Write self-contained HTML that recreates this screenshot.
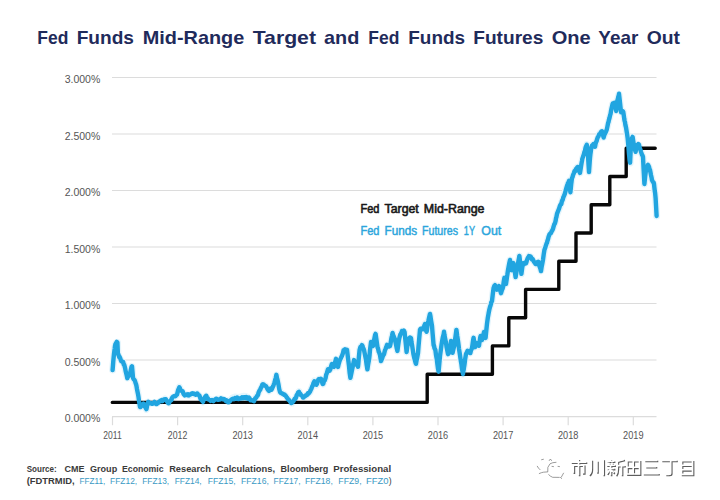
<!DOCTYPE html>
<html><head><meta charset="utf-8"><title>Fed Funds</title>
<style>
html,body{margin:0;padding:0;background:#fff;}
body{width:720px;height:500px;overflow:hidden;font-family:"Liberation Sans",sans-serif;}
svg{display:block;}
svg text{font-family:"Liberation Sans",sans-serif;}
</style></head><body>
<svg width="720" height="500" viewBox="0 0 720 500">
<rect width="720" height="500" fill="#ffffff"/>
<text x="37.3" y="44.3" font-size="19" font-weight="bold" fill="#1f2b5b" textLength="31.0" lengthAdjust="spacingAndGlyphs">Fed</text>
<text x="76.7" y="44.3" font-size="19" font-weight="bold" fill="#1f2b5b" textLength="57.3" lengthAdjust="spacingAndGlyphs">Funds</text>
<text x="142.7" y="44.3" font-size="19" font-weight="bold" fill="#1f2b5b" textLength="101.6" lengthAdjust="spacingAndGlyphs">Mid-Range</text>
<text x="252.7" y="44.3" font-size="19" font-weight="bold" fill="#1f2b5b" textLength="63.3" lengthAdjust="spacingAndGlyphs">Target</text>
<text x="324.0" y="44.3" font-size="19" font-weight="bold" fill="#1f2b5b" textLength="35.3" lengthAdjust="spacingAndGlyphs">and</text>
<text x="368.3" y="44.3" font-size="19" font-weight="bold" fill="#1f2b5b" textLength="31.0" lengthAdjust="spacingAndGlyphs">Fed</text>
<text x="408.3" y="44.3" font-size="19" font-weight="bold" fill="#1f2b5b" textLength="56.7" lengthAdjust="spacingAndGlyphs">Funds</text>
<text x="473.3" y="44.3" font-size="19" font-weight="bold" fill="#1f2b5b" textLength="70.0" lengthAdjust="spacingAndGlyphs">Futures</text>
<text x="551.7" y="44.3" font-size="19" font-weight="bold" fill="#1f2b5b" textLength="39.0" lengthAdjust="spacingAndGlyphs">One</text>
<text x="598.3" y="44.3" font-size="19" font-weight="bold" fill="#1f2b5b" textLength="40.0" lengthAdjust="spacingAndGlyphs">Year</text>
<text x="646.7" y="44.3" font-size="19" font-weight="bold" fill="#1f2b5b" textLength="33.3" lengthAdjust="spacingAndGlyphs">Out</text>
<line x1="112" y1="77.5" x2="656.5" y2="77.5" stroke="#dcdcdc" stroke-width="1.2"/>
<line x1="112" y1="134.0" x2="656.5" y2="134.0" stroke="#dcdcdc" stroke-width="1.2"/>
<line x1="112" y1="190.5" x2="656.5" y2="190.5" stroke="#dcdcdc" stroke-width="1.2"/>
<line x1="112" y1="247.0" x2="656.5" y2="247.0" stroke="#dcdcdc" stroke-width="1.2"/>
<line x1="112" y1="303.5" x2="656.5" y2="303.5" stroke="#dcdcdc" stroke-width="1.2"/>
<line x1="112" y1="360.0" x2="656.5" y2="360.0" stroke="#dcdcdc" stroke-width="1.2"/>
<line x1="112" y1="416.7" x2="656.5" y2="416.7" stroke="#dcdcdc" stroke-width="1.2"/>
<line x1="112.5" y1="416.7" x2="112.5" y2="425.2" stroke="#dcdcdc" stroke-width="1.2"/>
<line x1="177.6" y1="416.7" x2="177.6" y2="425.2" stroke="#dcdcdc" stroke-width="1.2"/>
<line x1="242.7" y1="416.7" x2="242.7" y2="425.2" stroke="#dcdcdc" stroke-width="1.2"/>
<line x1="307.8" y1="416.7" x2="307.8" y2="425.2" stroke="#dcdcdc" stroke-width="1.2"/>
<line x1="372.9" y1="416.7" x2="372.9" y2="425.2" stroke="#dcdcdc" stroke-width="1.2"/>
<line x1="438.0" y1="416.7" x2="438.0" y2="425.2" stroke="#dcdcdc" stroke-width="1.2"/>
<line x1="503.1" y1="416.7" x2="503.1" y2="425.2" stroke="#dcdcdc" stroke-width="1.2"/>
<line x1="568.2" y1="416.7" x2="568.2" y2="425.2" stroke="#dcdcdc" stroke-width="1.2"/>
<line x1="633.3" y1="416.7" x2="633.3" y2="425.2" stroke="#dcdcdc" stroke-width="1.2"/>
<text x="100.3" y="83.0" font-size="10" fill="#555555" text-anchor="end" textLength="35.6" lengthAdjust="spacingAndGlyphs">3.000%</text>
<text x="100.3" y="139.5" font-size="10" fill="#555555" text-anchor="end" textLength="35.6" lengthAdjust="spacingAndGlyphs">2.500%</text>
<text x="100.3" y="196.0" font-size="10" fill="#555555" text-anchor="end" textLength="35.6" lengthAdjust="spacingAndGlyphs">2.000%</text>
<text x="100.3" y="252.5" font-size="10" fill="#555555" text-anchor="end" textLength="35.6" lengthAdjust="spacingAndGlyphs">1.500%</text>
<text x="100.3" y="309.0" font-size="10" fill="#555555" text-anchor="end" textLength="35.6" lengthAdjust="spacingAndGlyphs">1.000%</text>
<text x="100.3" y="365.5" font-size="10" fill="#555555" text-anchor="end" textLength="35.6" lengthAdjust="spacingAndGlyphs">0.500%</text>
<text x="100.3" y="422.2" font-size="10" fill="#555555" text-anchor="end" textLength="35.6" lengthAdjust="spacingAndGlyphs">0.000%</text>
<text x="112.5" y="439" font-size="10" fill="#555555" text-anchor="middle" textLength="18.4" lengthAdjust="spacingAndGlyphs">2011</text>
<text x="177.6" y="439" font-size="10" fill="#555555" text-anchor="middle" textLength="19.5" lengthAdjust="spacingAndGlyphs">2012</text>
<text x="242.7" y="439" font-size="10" fill="#555555" text-anchor="middle" textLength="20.4" lengthAdjust="spacingAndGlyphs">2013</text>
<text x="307.8" y="439" font-size="10" fill="#555555" text-anchor="middle" textLength="20.4" lengthAdjust="spacingAndGlyphs">2014</text>
<text x="372.9" y="439" font-size="10" fill="#555555" text-anchor="middle" textLength="20.4" lengthAdjust="spacingAndGlyphs">2015</text>
<text x="438.0" y="439" font-size="10" fill="#555555" text-anchor="middle" textLength="20.4" lengthAdjust="spacingAndGlyphs">2016</text>
<text x="503.1" y="439" font-size="10" fill="#555555" text-anchor="middle" textLength="20.4" lengthAdjust="spacingAndGlyphs">2017</text>
<text x="568.2" y="439" font-size="10" fill="#555555" text-anchor="middle" textLength="20.4" lengthAdjust="spacingAndGlyphs">2018</text>
<text x="633.3" y="439" font-size="10" fill="#555555" text-anchor="middle" textLength="20.4" lengthAdjust="spacingAndGlyphs">2019</text>
<polyline points="112.6,370.0 113.6,358.0 115.0,346.0 116.2,343.0 117.4,342.4 117.9,354.0 119.3,357.0 121.3,361.0 122.8,362.0 124.3,365.0 125.8,372.0 127.3,378.0 130.0,374.0 131.0,369.0 132.0,366.4 133.0,378.0 134.5,380.0 136.0,384.0 137.0,389.0 138.0,394.0 139.0,401.0 140.0,407.0 142.0,405.0 144.0,404.0 145.2,407.0 146.4,409.4 147.2,405.0 148.0,402.0 150.5,403.4 153.0,403.0 155.0,402.6 157.0,403.6 159.0,402.0 161.0,401.0 163.0,400.6 165.0,399.0 167.0,401.5 169.0,403.0 171.0,400.0 173.0,397.0 175.0,396.4 177.0,395.0 178.2,390.0 179.4,387.0 180.6,390.0 182.0,391.0 183.5,393.6 185.0,395.0 187.0,394.6 189.0,395.6 191.0,394.4 193.0,394.0 195.0,394.6 197.0,393.6 198.5,395.0 200.0,397.0 201.5,400.0 203.0,402.0 204.5,398.0 206.0,396.0 207.5,398.6 209.0,400.0 211.0,400.0 213.0,401.0 215.0,399.6 217.0,399.0 219.0,399.2 221.0,398.4 223.0,399.6 225.0,400.0 227.5,400.6 230.0,400.4 232.5,398.0 235.0,397.0 238.0,397.4 241.0,397.0 244.0,396.2 246.0,396.4 248.0,397.6 250.0,399.0 252.0,400.4 253.6,401.0 255.4,398.0 257.0,396.0 258.5,393.0 260.0,390.0 261.5,387.0 263.0,384.0 264.5,385.4 266.0,386.0 267.5,389.0 269.0,391.0 270.5,389.4 272.0,389.0 273.2,386.0 274.4,383.0 275.4,379.0 276.4,375.0 277.4,380.0 278.4,384.0 279.2,389.0 280.0,392.0 281.5,393.0 283.0,394.0 284.5,394.6 286.0,396.0 287.5,398.0 289.0,400.0 290.5,402.0 292.0,403.0 293.5,401.4 295.0,399.0 297.0,395.0 299.0,391.6 300.0,393.6 301.0,395.0 302.5,396.4 304.0,397.0 305.5,396.0 307.0,395.0 308.5,393.6 310.0,392.0 311.2,389.0 312.4,386.0 313.4,383.0 314.4,381.0 315.4,383.4 316.4,385.0 317.7,381.6 319.0,379.0 321.0,379.0 322.0,382.0 323.0,384.0 324.3,381.0 325.6,378.0 326.8,373.0 328.0,369.0 329.0,370.4 330.0,370.0 331.0,366.6 332.0,364.0 333.0,366.0 334.0,367.0 335.0,362.6 336.0,359.0 337.0,363.6 338.0,367.0 339.0,363.0 340.0,360.0 341.0,358.0 342.0,356.0 343.0,353.0 344.0,350.0 345.5,349.6 347.0,350.0 348.0,358.0 349.0,366.0 349.7,373.0 350.4,378.0 351.2,374.0 352.0,370.0 353.0,364.6 354.0,360.0 355.0,361.8 356.0,363.0 357.0,365.4 358.0,367.0 358.8,358.0 359.6,350.0 360.8,346.6 362.0,345.0 363.0,347.6 364.0,350.0 365.0,355.0 366.0,360.0 366.7,365.0 367.4,369.0 368.2,364.0 369.0,360.0 370.0,350.0 371.0,342.0 372.0,344.6 373.0,346.0 374.3,339.0 375.6,334.0 376.6,341.0 377.6,348.0 378.8,352.0 380.0,355.0 381.0,361.0 382.5,357.0 384.0,354.0 385.5,349.0 387.0,345.0 388.5,346.4 390.0,346.0 391.3,339.0 392.6,333.0 393.8,336.4 395.0,339.0 396.2,345.4 397.4,351.0 398.4,344.0 399.4,338.0 400.7,334.0 402.0,331.0 403.3,331.0 404.6,332.0 405.6,342.0 406.6,352.0 407.6,345.0 408.6,339.0 409.8,338.0 411.0,338.0 412.2,346.0 413.4,354.0 414.7,359.4 416.0,364.0 417.0,358.6 418.0,353.0 419.0,341.0 420.0,330.0 421.5,329.0 423.0,329.0 424.0,326.4 425.0,324.0 425.8,328.6 426.6,332.0 427.3,326.6 428.0,322.0 429.0,317.6 430.0,314.0 431.0,320.0 432.0,326.0 432.8,336.0 433.6,345.0 434.5,348.0 435.4,350.0 436.4,357.0 437.4,364.0 438.0,368.6 438.6,372.0 439.3,364.0 440.0,356.0 441.0,348.6 442.0,342.0 443.0,336.6 444.0,332.0 445.0,337.6 446.0,343.0 447.0,349.0 448.0,354.0 448.7,353.4 449.4,352.0 450.2,346.0 451.0,341.0 451.8,347.6 452.6,353.0 453.5,349.0 454.4,345.0 455.4,337.0 456.4,330.0 457.2,336.0 458.0,341.0 459.0,348.6 460.0,355.0 460.7,360.0 461.4,364.0 462.2,369.6 463.0,374.0 463.7,369.6 464.4,365.0 465.2,359.0 466.0,354.0 467.0,352.0 468.0,351.0 469.0,352.4 470.0,353.0 471.0,350.4 472.0,348.0 472.8,342.6 473.6,338.0 474.3,343.0 475.0,347.0 476.0,344.6 477.0,343.0 478.0,345.0 479.0,346.0 479.8,340.6 480.6,336.0 481.3,338.4 482.0,340.0 483.0,335.6 484.0,332.0 484.8,335.4 485.6,338.0 486.3,330.6 487.0,324.0 487.8,318.0 488.6,313.0 489.3,310.0 490.0,307.0 491.0,303.6 492.0,301.0 492.8,294.0 493.6,288.0 494.3,286.0 495.0,285.0 496.0,288.0 497.0,290.0 498.0,287.6 499.0,286.0 500.0,290.0 501.0,293.0 502.0,289.6 503.0,287.0 503.7,282.0 504.4,278.0 505.2,281.6 506.0,284.0 507.0,276.6 508.0,270.0 509.0,264.6 510.0,260.0 510.8,265.4 511.6,270.0 512.5,266.0 513.4,263.0 514.5,270.6 515.6,277.0 516.6,271.0 517.6,266.0 518.5,260.6 519.4,256.0 520.4,265.4 521.4,274.0 522.2,268.0 523.0,263.0 524.5,263.4 526.0,263.0 527.5,259.0 529.0,256.0 530.0,256.8 531.0,257.0 532.3,259.4 533.6,261.0 534.8,262.8 536.0,264.0 537.2,262.6 538.4,262.0 539.7,267.0 541.0,271.0 542.0,265.0 543.0,260.0 543.7,254.6 544.4,250.0 545.7,246.0 547.0,243.0 548.0,239.0 549.0,236.0 550.5,233.0 552.0,230.5 553.5,227.0 555.0,223.0 556.0,218.6 557.0,214.0 559.0,209.0 561.0,204.0 562.5,200.0 564.0,196.0 565.5,191.0 567.0,186.0 568.0,183.0 569.0,181.0 569.7,187.0 570.4,192.0 571.2,184.6 572.0,178.0 573.0,175.0 574.0,173.0 575.0,171.0 576.0,169.0 577.0,167.6 578.0,167.0 579.0,170.6 580.0,173.0 581.0,166.6 582.0,161.0 583.2,156.0 584.4,152.0 585.4,148.6 586.8,144.6 587.8,152.0 588.6,166.0 589.0,172.0 589.7,162.0 590.4,154.0 591.2,148.0 592.0,145.5 593.8,144.0 595.0,146.6 596.6,141.0 598.0,137.4 599.4,134.0 600.7,132.4 601.9,131.4 602.8,134.6 603.6,137.4 605.0,133.6 606.4,130.4 607.5,126.0 608.5,122.0 609.5,118.0 610.6,113.6 611.6,108.4 612.7,103.8 613.8,103.0 614.8,103.0 615.5,107.4 616.2,110.8 616.9,104.6 617.6,99.6 618.3,96.4 619.0,94.0 619.6,99.0 620.1,103.8 620.6,108.4 621.1,112.0 622.2,111.5 623.2,111.5 623.9,116.4 624.6,120.6 625.3,124.4 626.0,127.6 626.8,132.6 627.6,138.0 628.3,145.0 629.0,154.0 629.6,160.0 630.1,163.0 630.6,152.0 631.2,142.0 631.9,138.6 632.6,137.0 633.3,141.6 634.0,146.0 634.8,149.4 635.6,152.0 636.3,148.0 637.0,145.0 638.0,144.6 639.0,145.0 640.0,148.6 641.0,152.0 642.0,154.6 643.0,157.0 643.7,171.0 644.4,184.0 645.2,176.0 646.0,170.0 647.0,167.0 648.0,165.0 649.0,167.0 650.0,170.0 651.0,175.0 652.0,180.0 653.0,182.4 654.0,184.0 654.8,191.0 655.6,198.0 656.1,207.0 656.6,216.0" fill="none" stroke="#e4f5fc" stroke-width="7" stroke-linejoin="round" stroke-linecap="round"/>
<polyline points="112.3,402.4 427.2,402.4 427.2,374.2 492.4,374.2 492.4,345.9 508.8,345.9 508.8,317.7 525.6,317.7 525.6,289.4 558.8,289.4 558.8,261.2 576.0,261.2 576.0,233.0 591.2,233.0 591.2,204.7 609.8,204.7 609.8,176.5 626.2,176.5 626.2,148.2 655.2,148.2" fill="none" stroke="#080808" stroke-width="3.4" stroke-linejoin="round" stroke-linecap="round"/>
<polyline points="112.6,370.0 113.3,361.0 113.6,358.1 114.0,353.8 114.7,348.6 115.0,345.9 115.4,344.2 116.2,343.0 116.8,341.9 117.4,342.4 117.9,353.8 118.2,353.9 118.9,356.0 119.3,357.2 119.6,356.9 120.3,358.5 121.0,360.6 121.3,361.2 121.7,361.4 122.4,361.5 122.8,362.3 123.1,361.8 123.8,364.6 124.3,364.9 125.2,368.6 125.8,371.8 126.6,374.9 127.3,378.2 128.0,376.4 128.7,376.1 129.4,375.1 130.0,373.9 131.0,369.0 131.5,366.9 132.0,366.2 133.0,377.8 133.6,379.1 134.5,380.0 135.0,381.0 135.7,383.4 136.0,384.0 136.4,385.6 137.0,389.2 138.0,394.1 138.5,397.0 139.0,401.0 140.0,407.0 140.6,407.1 141.3,406.1 142.0,404.9 142.7,405.5 143.4,403.6 144.0,404.0 144.8,406.5 145.2,406.8 145.5,407.6 146.4,409.2 146.9,407.0 147.2,405.1 147.6,403.6 148.0,402.2 148.3,401.8 149.0,402.9 149.7,403.1 150.5,403.4 151.1,403.2 151.8,403.8 152.5,403.9 153.0,403.0 153.9,403.1 154.6,401.9 155.0,402.7 155.3,403.0 156.0,404.0 156.7,404.0 157.0,403.5 157.4,403.1 158.1,403.0 159.0,401.7 159.5,401.7 160.2,400.8 161.0,400.8 161.6,400.1 162.3,401.2 163.0,400.4 163.7,399.6 164.4,399.3 165.0,399.2 165.8,399.2 166.5,400.8 167.0,401.5 167.9,402.9 168.6,403.3 169.0,403.2 169.3,402.2 170.0,401.3 170.7,400.2 171.0,400.2 171.4,400.2 172.1,397.7 173.0,396.8 173.5,396.4 174.2,396.2 175.0,396.4 175.6,396.1 176.3,395.1 177.0,394.7 177.7,391.9 178.2,389.9 179.1,387.9 179.4,387.2 179.8,388.3 180.6,390.0 181.2,390.6 182.0,391.1 182.6,391.2 183.5,393.8 184.0,394.6 184.7,395.4 185.0,395.2 185.4,394.7 186.1,394.6 187.0,394.4 187.5,395.1 188.2,394.4 189.0,395.4 189.6,394.7 190.3,394.2 191.0,394.3 191.7,393.5 192.4,393.2 193.0,393.8 193.8,393.5 194.5,394.2 195.0,394.3 195.9,394.8 196.6,394.0 197.0,393.4 197.3,393.4 198.0,394.3 198.5,394.9 199.4,395.5 200.0,397.2 200.8,399.5 201.5,400.0 202.2,400.9 203.0,401.8 203.6,399.7 204.5,397.9 205.0,396.9 205.7,397.0 206.0,395.8 206.4,395.8 207.1,398.7 207.5,398.6 207.8,398.2 208.5,399.6 209.0,399.7 209.9,400.1 210.6,400.9 211.0,400.2 211.3,400.5 212.0,400.1 212.7,400.6 213.0,400.8 213.4,401.2 214.1,400.3 215.0,399.8 215.5,399.1 216.2,398.7 217.0,399.2 217.6,399.9 218.3,399.8 219.0,399.4 219.7,399.5 220.4,399.1 221.0,398.3 221.8,398.9 222.5,399.0 223.0,399.3 223.9,398.9 224.6,399.5 225.0,399.9 225.3,400.4 226.0,401.1 226.7,400.3 227.5,400.8 228.1,402.4 228.8,402.3 229.5,401.2 230.0,401.2 230.9,400.0 231.6,399.3 232.5,398.8 233.0,399.0 233.7,399.2 234.4,398.9 235.0,398.0 235.8,398.4 236.5,398.7 237.2,397.5 238.0,398.5 238.6,399.1 239.3,398.7 240.0,398.6 240.7,398.0 241.0,397.8 241.4,398.4 242.1,397.4 242.8,398.1 243.5,398.2 244.0,397.1 244.9,397.1 245.6,398.2 246.0,397.5 246.3,397.0 247.0,397.3 247.7,397.8 248.0,398.8 248.4,398.4 249.1,397.7 250.0,399.2 250.5,400.2 251.2,400.1 252.0,400.3 252.6,400.7 253.3,400.2 253.6,400.7 254.0,401.2 254.7,399.4 255.4,398.0 256.1,397.9 257.0,396.0 257.5,395.7 258.2,394.2 258.5,392.8 258.9,391.8 259.6,390.4 260.0,389.9 260.3,389.6 261.0,387.6 261.5,387.0 262.4,384.5 263.0,384.2 263.8,384.5 264.5,385.4 265.2,385.8 266.0,386.2 266.6,387.1 267.5,389.2 268.0,389.7 268.7,390.7 269.0,391.0 269.4,389.7 270.1,389.7 270.5,389.2 270.8,388.4 271.5,389.7 272.0,388.8 272.9,386.7 273.2,386.1 273.6,385.1 274.4,382.9 275.0,380.6 275.4,379.0 275.7,378.3 276.4,374.8 277.1,378.6 277.4,379.9 277.8,381.2 278.4,384.1 279.2,389.0 280.0,392.0 280.6,392.9 281.5,393.2 282.0,393.2 282.7,394.0 283.0,394.0 283.4,394.2 284.1,394.8 284.5,394.6 284.8,394.9 285.5,395.5 286.0,396.2 286.9,397.6 287.5,398.2 288.3,399.9 289.0,399.9 289.7,401.0 290.5,402.2 291.1,403.0 292.0,402.8 292.5,401.8 293.2,401.6 293.5,401.2 293.9,400.3 294.6,398.9 295.0,399.1 295.3,398.9 296.0,397.7 296.7,395.0 297.0,395.1 297.4,394.6 298.1,392.5 299.0,391.8 299.5,393.4 300.0,393.4 301.0,395.2 301.6,395.4 302.5,396.4 303.0,397.5 303.7,397.5 304.0,396.8 304.4,396.6 305.1,396.3 305.5,395.9 305.8,395.3 306.5,395.0 307.0,395.1 307.9,393.3 308.5,393.6 309.3,392.6 310.0,391.7 310.7,389.9 311.2,389.1 312.1,386.8 312.4,385.8 312.8,385.7 313.4,383.2 314.4,381.3 314.9,381.5 315.4,383.3 316.4,384.8 317.0,383.9 317.7,381.5 318.4,379.5 319.0,379.0 319.8,379.7 320.5,379.6 321.0,378.9 322.0,381.8 322.6,384.0 323.0,384.0 323.3,383.7 324.0,381.0 324.3,380.8 324.7,380.4 325.6,378.0 326.1,375.1 326.8,373.2 327.5,370.9 328.0,369.2 329.0,370.2 329.6,370.8 330.0,369.8 330.3,369.6 331.0,366.6 331.7,364.5 332.0,364.0 332.4,365.6 333.0,365.9 334.0,366.8 334.5,364.8 335.0,362.5 336.0,358.8 336.6,361.2 337.0,363.4 337.3,364.1 338.0,366.9 338.7,363.8 339.0,363.1 339.4,361.4 340.0,360.0 341.0,357.8 341.5,356.7 342.0,355.7 343.0,352.9 343.6,350.3 344.0,350.1 344.3,350.0 345.0,349.2 345.5,349.6 346.4,350.6 347.0,349.8 348.0,358.2 348.5,361.9 349.0,366.0 349.7,373.2 350.4,377.9 351.2,374.0 352.0,370.1 352.7,367.1 353.0,364.5 353.4,363.4 354.0,360.1 355.0,361.9 355.5,362.2 356.0,362.9 357.0,365.2 357.6,365.7 358.0,366.8 358.3,364.1 358.8,357.9 359.6,349.8 360.4,347.0 360.8,346.8 361.1,346.9 362.0,345.1 362.5,345.9 363.0,347.5 364.0,349.9 364.6,352.9 365.0,354.8 365.3,356.4 366.0,359.9 366.7,365.2 367.4,369.3 368.2,364.0 369.0,359.9 369.5,355.8 370.0,349.9 371.0,341.9 371.6,342.7 372.0,344.5 372.3,345.0 373.0,346.0 373.7,341.7 374.3,339.0 375.1,335.0 375.6,333.9 376.6,340.8 377.2,345.0 377.6,347.8 377.9,348.1 378.8,351.9 379.3,352.8 380.0,355.0 380.7,359.3 381.0,361.1 381.4,360.2 382.1,358.5 382.5,357.2 382.8,356.2 383.5,354.7 384.0,354.3 384.9,350.4 385.5,349.1 386.3,347.1 387.0,344.8 387.7,346.3 388.5,346.6 389.1,346.5 390.0,346.1 390.5,343.9 391.3,338.8 391.9,336.3 392.6,333.0 393.3,335.6 393.8,336.6 394.7,338.9 395.0,339.0 395.4,341.8 396.2,345.5 396.8,348.5 397.4,350.9 398.4,343.7 398.9,340.3 399.4,337.9 400.3,334.5 400.7,334.2 401.0,333.4 401.7,331.9 402.0,331.1 402.4,331.3 403.3,331.0 403.8,330.5 404.6,332.2 405.2,338.4 405.6,342.0 405.9,345.1 406.6,352.1 407.3,346.3 407.6,345.1 408.0,342.2 408.6,338.8 409.4,337.9 409.8,338.1 410.1,337.5 411.0,338.1 411.5,342.2 412.2,346.0 412.9,350.5 413.4,354.0 414.3,358.1 414.7,359.5 415.0,360.7 415.7,363.2 416.0,363.8 416.4,361.2 417.0,358.5 418.0,353.1 418.5,346.6 419.0,341.0 420.0,329.7 420.6,328.8 421.5,328.9 422.0,329.3 422.7,329.3 423.0,329.1 423.4,327.6 424.0,326.4 425.0,324.0 425.5,326.8 425.8,328.4 426.2,331.0 426.6,331.8 426.9,330.5 427.3,326.8 427.6,323.8 428.0,322.0 428.3,321.3 429.0,317.9 429.7,315.0 430.0,313.9 430.4,315.9 431.0,320.2 432.0,325.8 432.5,332.4 432.8,335.8 433.2,340.5 433.6,345.2 433.9,345.3 434.5,348.2 435.4,350.0 436.0,354.9 436.4,357.1 436.7,358.6 437.4,364.2 438.0,368.6 438.6,371.7 439.3,363.7 440.0,356.0 441.0,348.6 441.6,344.3 442.0,341.8 442.3,340.1 443.0,336.5 443.7,334.0 444.0,331.7 444.4,334.7 445.0,337.8 446.0,342.8 446.5,346.8 447.0,349.1 448.0,354.2 448.7,353.3 449.4,351.9 450.2,345.9 450.7,343.8 451.0,341.0 451.4,344.0 451.8,347.6 452.1,349.2 452.6,352.8 453.5,348.8 454.4,345.2 454.9,340.6 455.4,337.2 456.4,329.9 457.2,335.9 457.7,339.1 458.0,340.8 458.4,343.8 459.0,348.8 460.0,355.2 460.7,360.2 461.4,364.1 461.9,368.2 462.2,369.8 462.6,371.9 463.0,374.1 463.3,371.3 463.7,369.7 464.0,367.5 464.4,365.1 464.7,363.0 465.2,358.9 466.0,353.8 467.0,352.2 467.5,350.8 468.0,351.0 469.0,352.3 469.6,352.4 470.0,353.1 470.3,353.1 471.0,350.3 471.7,349.0 472.0,347.9 472.4,345.4 472.8,342.5 473.1,340.3 473.6,337.8 474.3,342.8 475.0,347.2 476.0,344.6 476.6,343.1 477.0,343.2 477.3,344.5 478.0,345.0 478.7,345.1 479.0,345.8 479.4,342.6 479.8,340.5 480.1,338.1 480.6,335.9 481.3,338.3 482.0,340.0 483.0,335.8 483.6,333.9 484.0,332.0 484.3,333.1 484.8,335.4 485.6,337.9 486.3,330.5 487.0,323.8 487.8,317.9 488.6,313.3 489.3,309.8 490.0,307.0 490.6,305.2 491.0,303.8 491.3,302.3 492.0,300.9 492.8,293.9 493.6,287.9 494.3,286.0 495.0,285.2 495.5,287.1 496.0,288.2 497.0,289.7 497.6,287.7 498.0,287.7 498.3,287.8 499.0,286.0 499.7,289.0 500.0,289.7 500.4,291.0 501.0,293.2 502.0,289.8 502.5,288.9 503.0,287.3 503.7,281.9 504.4,277.8 505.2,281.4 506.0,284.0 506.7,279.1 507.0,276.8 507.4,274.4 508.0,270.1 509.0,264.7 509.5,262.2 510.0,260.0 510.8,265.2 511.6,270.2 512.5,265.9 513.0,265.1 513.4,263.1 513.7,264.7 514.5,270.4 515.1,273.6 515.6,277.1 516.6,271.1 517.2,267.3 517.6,265.8 517.9,264.2 518.5,260.6 519.4,255.9 520.0,261.1 520.4,265.5 520.7,267.1 521.4,273.9 522.2,268.0 523.0,263.2 523.5,263.4 524.2,264.0 524.5,263.4 524.9,262.8 525.6,262.7 526.0,263.2 526.3,262.6 527.0,260.0 527.5,258.7 528.4,257.2 529.0,256.1 530.0,256.8 530.5,256.5 531.0,257.1 531.9,259.4 532.3,259.3 532.6,258.9 533.3,260.3 533.6,261.0 534.0,261.9 534.8,262.6 535.4,263.9 536.0,264.1 536.8,263.1 537.2,262.4 537.5,263.3 538.4,261.9 538.9,264.5 539.7,266.9 540.3,268.3 541.0,271.1 541.7,266.4 542.0,265.2 542.4,263.0 543.0,259.8 543.7,254.5 544.4,250.0 545.2,247.8 545.7,246.2 546.6,243.3 547.0,242.9 547.3,241.3 548.0,239.3 548.7,236.3 549.0,235.8 549.4,234.4 550.1,233.6 550.5,233.2 550.8,233.2 551.5,231.8 552.0,230.8 552.9,229.2 553.5,226.9 554.3,224.3 555.0,223.2 555.7,220.4 556.0,218.3 556.4,217.1 557.0,213.9 557.8,211.8 558.5,209.9 559.0,208.8 559.9,205.9 560.6,204.6 561.0,203.9 561.3,204.0 562.0,200.7 562.5,200.3 563.4,197.1 564.0,195.9 564.8,193.9 565.5,191.2 566.2,188.5 567.0,185.8 567.6,184.2 568.0,182.9 568.3,183.2 569.0,180.8 569.7,186.9 570.4,192.2 571.2,184.3 572.0,178.0 572.5,177.1 573.0,175.1 574.0,172.8 574.6,171.0 575.0,170.8 575.3,171.2 576.0,168.9 576.7,168.5 577.0,167.8 577.4,167.1 578.0,166.9 579.0,170.8 579.5,172.0 580.0,172.9 581.0,166.7 581.6,162.9 582.0,160.9 582.3,158.9 583.2,156.1 583.7,155.1 584.4,152.1 585.1,150.4 585.4,148.3 585.8,147.0 586.5,145.4 586.8,144.8 587.2,148.4 587.8,151.9 588.6,165.9 589.0,172.0 589.3,167.7 589.7,162.2 590.0,158.0 590.4,154.2 590.7,152.2 591.2,148.2 592.0,145.6 592.8,145.0 593.5,143.9 593.8,143.9 594.2,144.6 595.0,146.8 595.6,143.7 596.3,141.5 596.6,141.1 597.0,139.5 597.7,137.4 598.0,137.1 598.4,136.5 599.1,134.4 599.4,134.3 599.8,134.2 600.7,132.7 601.2,131.6 601.9,131.2 602.8,134.4 603.3,136.3 603.6,137.5 604.0,136.2 604.7,133.9 605.0,133.6 605.4,132.9 606.1,131.4 606.4,130.5 606.8,129.4 607.5,126.1 608.2,122.5 608.5,122.2 608.9,120.0 609.5,118.0 610.3,114.6 610.6,113.7 611.0,111.0 611.6,108.3 612.4,104.6 612.7,103.6 613.1,104.2 613.8,103.0 614.5,102.7 614.8,102.9 615.2,106.4 615.5,107.4 615.9,108.9 616.2,111.0 616.6,107.5 616.9,104.9 617.3,101.0 617.6,99.6 618.0,98.3 618.3,96.6 618.7,95.8 619.0,93.8 619.6,98.9 620.1,103.6 620.6,108.2 621.1,112.3 621.5,112.0 622.2,111.7 622.9,111.3 623.2,111.7 623.6,114.2 623.9,116.3 624.3,119.3 624.6,120.8 625.0,122.1 625.3,124.5 625.7,126.4 626.0,127.4 626.4,129.9 626.8,132.4 627.1,134.1 627.6,137.9 628.3,145.1 629.0,154.1 629.6,159.8 630.1,162.7 630.6,151.9 631.2,142.1 631.9,138.4 632.6,136.9 633.3,141.4 634.0,146.2 634.8,149.4 635.6,151.8 636.3,147.8 637.0,144.9 637.6,144.9 638.0,144.7 638.3,144.0 639.0,144.8 639.7,147.9 640.0,148.6 640.4,149.6 641.0,151.9 642.0,154.8 642.5,155.5 643.0,157.0 643.7,170.9 644.4,184.0 645.2,176.2 646.0,170.3 646.7,167.7 647.0,166.8 647.4,166.6 648.0,164.8 649.0,166.7 649.5,169.2 650.0,170.0 651.0,175.2 651.6,177.8 652.0,180.2 652.3,180.6 653.0,182.2 653.7,182.6 654.0,184.0 654.4,187.8 654.8,191.2 655.1,192.9 655.6,198.1 656.1,206.9 656.6,216.0" fill="none" stroke="#21a5e0" stroke-width="4.4" stroke-linejoin="round" stroke-linecap="round"/>
<text x="360.5" y="212.5" font-size="12" font-weight="normal" fill="#1a1a1a" stroke="#1a1a1a" stroke-width="0.6" stroke-linejoin="round" textLength="19.0" lengthAdjust="spacingAndGlyphs">Fed</text>
<text x="384.5" y="212.5" font-size="12" font-weight="normal" fill="#1a1a1a" stroke="#1a1a1a" stroke-width="0.6" stroke-linejoin="round" textLength="34.3" lengthAdjust="spacingAndGlyphs">Target</text>
<text x="423.8" y="212.5" font-size="12" font-weight="normal" fill="#1a1a1a" stroke="#1a1a1a" stroke-width="0.6" stroke-linejoin="round" textLength="60.7" lengthAdjust="spacingAndGlyphs">Mid-Range</text>
<text x="360.5" y="234.5" font-size="12" font-weight="normal" fill="#2ba6dc" stroke="#2ba6dc" stroke-width="0.45" stroke-linejoin="round" textLength="19.0" lengthAdjust="spacingAndGlyphs">Fed</text>
<text x="384.5" y="234.5" font-size="12" font-weight="normal" fill="#2ba6dc" stroke="#2ba6dc" stroke-width="0.45" stroke-linejoin="round" textLength="32.5" lengthAdjust="spacingAndGlyphs">Funds</text>
<text x="422.0" y="234.5" font-size="12" font-weight="normal" fill="#2ba6dc" stroke="#2ba6dc" stroke-width="0.45" stroke-linejoin="round" textLength="36.0" lengthAdjust="spacingAndGlyphs">Futures</text>
<text x="463.8" y="234.5" font-size="12" font-weight="normal" fill="#2ba6dc" stroke="#2ba6dc" stroke-width="0.45" stroke-linejoin="round" textLength="11.2" lengthAdjust="spacingAndGlyphs">1Y</text>
<text x="481.3" y="234.5" font-size="12" font-weight="normal" fill="#2ba6dc" stroke="#2ba6dc" stroke-width="0.45" stroke-linejoin="round" textLength="20.0" lengthAdjust="spacingAndGlyphs">Out</text>
<text x="26.7" y="471.7" font-size="9.5" font-weight="bold" fill="#3a3a3a" textLength="30.0" lengthAdjust="spacingAndGlyphs">Source:</text>
<text x="64.4" y="471.7" font-size="9.5" font-weight="bold" fill="#3a3a3a" textLength="20.0" lengthAdjust="spacingAndGlyphs">CME</text>
<text x="90.0" y="471.7" font-size="9.5" font-weight="bold" fill="#3a3a3a" textLength="27.2" lengthAdjust="spacingAndGlyphs">Group</text>
<text x="122.0" y="471.7" font-size="9.5" font-weight="bold" fill="#3a3a3a" textLength="41.6" lengthAdjust="spacingAndGlyphs">Economic</text>
<text x="169.2" y="471.7" font-size="9.5" font-weight="bold" fill="#3a3a3a" textLength="41.6" lengthAdjust="spacingAndGlyphs">Research</text>
<text x="216.7" y="471.7" font-size="9.5" font-weight="bold" fill="#3a3a3a" textLength="58.3" lengthAdjust="spacingAndGlyphs">Calculations,</text>
<text x="280.6" y="471.7" font-size="9.5" font-weight="bold" fill="#3a3a3a" textLength="47.7" lengthAdjust="spacingAndGlyphs">Bloomberg</text>
<text x="333.3" y="471.7" font-size="9.5" font-weight="bold" fill="#3a3a3a" textLength="57.8" lengthAdjust="spacingAndGlyphs">Professional</text>
<text x="26.7" y="484.2" font-size="9.5" font-weight="bold" fill="#3a3a3a" textLength="48.0" lengthAdjust="spacingAndGlyphs">(FDTRMID,</text>
<text x="79.4" y="484.2" font-size="9.5" font-weight="normal" fill="#3a9ac4" textLength="25.9" lengthAdjust="spacingAndGlyphs">FFZ11,</text>
<text x="110.0" y="484.2" font-size="9.5" font-weight="normal" fill="#3a9ac4" textLength="27.2" lengthAdjust="spacingAndGlyphs">FFZ12,</text>
<text x="142.2" y="484.2" font-size="9.5" font-weight="normal" fill="#3a9ac4" textLength="27.0" lengthAdjust="spacingAndGlyphs">FFZ13,</text>
<text x="174.7" y="484.2" font-size="9.5" font-weight="normal" fill="#3a9ac4" textLength="27.0" lengthAdjust="spacingAndGlyphs">FFZ14,</text>
<text x="207.8" y="484.2" font-size="9.5" font-weight="normal" fill="#3a9ac4" textLength="27.8" lengthAdjust="spacingAndGlyphs">FFZ15,</text>
<text x="241.0" y="484.2" font-size="9.5" font-weight="normal" fill="#3a9ac4" textLength="27.9" lengthAdjust="spacingAndGlyphs">FFZ16,</text>
<text x="273.6" y="484.2" font-size="9.5" font-weight="normal" fill="#3a9ac4" textLength="27.0" lengthAdjust="spacingAndGlyphs">FFZ17,</text>
<text x="305.0" y="484.2" font-size="9.5" font-weight="normal" fill="#3a9ac4" textLength="27.8" lengthAdjust="spacingAndGlyphs">FFZ18,</text>
<text x="338.3" y="484.2" font-size="9.5" font-weight="normal" fill="#3a9ac4" textLength="23.4" lengthAdjust="spacingAndGlyphs">FFZ9,</text>
<text x="366.0" y="484.2" font-size="9.5" font-weight="normal" fill="#3a9ac4" textLength="22.6" lengthAdjust="spacingAndGlyphs">FFZ0</text>
<text x="388.8" y="484.2" font-size="9.5" font-weight="normal" fill="#3a3a3a" textLength="2.9" lengthAdjust="spacingAndGlyphs">)</text>
<!-- watermark: white glyph strokes with grey drop shadow, drawn as paths (no CJK font needed) -->
<defs>
<g id="wmglyphs" fill="none" stroke-linecap="butt" stroke-linejoin="miter">
<!-- shi (market) -->
<path d="M579.6,460.4 L579.6,463.2 M572,463.5 L587.5,463.5 M574.6,474.2 L574.6,466.6 L585,466.6 L585,474.2 L583.2,474.2 M579.8,463.5 L579.8,476.6"/>
<!-- kawa (river) -->
<path d="M592.6,461 L592.6,470 Q592.6,474.4 590,476.2 M598.2,462 L598.2,474 M604.5,460.5 L604.5,476.6"/>
<!-- shin (new) -->
<path d="M611.6,460.4 L611.6,462.2 M608,462.6 L615.6,462.6 M609.8,464 L610.5,466 M613.6,464 L612.9,466 M607.5,466.6 L616.2,466.6 M608,469.9 L615.6,469.9 M611.8,466.6 L611.8,476.6 M611,471 L608,475.2 M612.6,471.5 L615.2,474.2 M625.2,460.8 L618.6,462.6 L618.6,470 Q618.6,474.4 616.8,476.6 M618.6,467 L626,467 M622.8,467 L622.8,476.6"/>
<!-- ta (field) -->
<path d="M628.2,462 L640.8,462 L640.8,475.4 L628.2,475.4 Z M634.5,462 L634.5,475.4 M628.2,468.7 L640.8,468.7"/>
<!-- san (three) -->
<path d="M645.5,461.8 L658.5,461.8 M646.5,468 L657.5,468 M644,475 L660,475"/>
<!-- chou -->
<path d="M662.5,461.8 L678,461.8 M672,461.8 L672,474.4 Q672,475.8 670,475.8 L666.5,475.8"/>
<!-- me (eye) -->
<path d="M682.8,462 L693.8,462 L693.8,475.8 L682.8,475.8 Z M682.8,466.6 L693.8,466.6 M682.8,471.2 L693.8,471.2"/>
</g>
</defs>
<use href="#wmglyphs" transform="translate(-0.2,-0.3)" stroke="#5e5e5e" stroke-width="1.6"/>
<use href="#wmglyphs" transform="translate(-1.3,-1.4)" stroke="#ffffff" stroke-width="1.6"/>
<!-- chat bubble icon: only faint shadow fragments are visible -->
<g fill="none" stroke="#5a5a5a" stroke-width="0.7" stroke-linecap="round" opacity="0.85">
<path d="M541.6,459.7 L543.4,459.3"/>
<path d="M549.3,460.5 L550.4,459 L551.5,460.5"/>
<path d="M537.3,466.3 Q538.4,468.4 540,469.7"/>
<path d="M539.3,473.5 Q541.5,472.5 543.5,472.2 L547.5,471.9"/>
<path d="M547.7,471.5 Q546.8,467 550,463.8 Q552.6,462.3 556,462.3"/>
<path d="M552,466.4 L553.5,466.6 M558,466.4 L559.5,466.6"/>
<path d="M548.7,474.7 Q550.4,476.5 552.7,477.3 L559.3,477.4"/>
<path d="M560.5,477.3 L561.5,478.5 M561.4,477 L563.5,473.2"/>
</g>
</svg>
</body></html>
